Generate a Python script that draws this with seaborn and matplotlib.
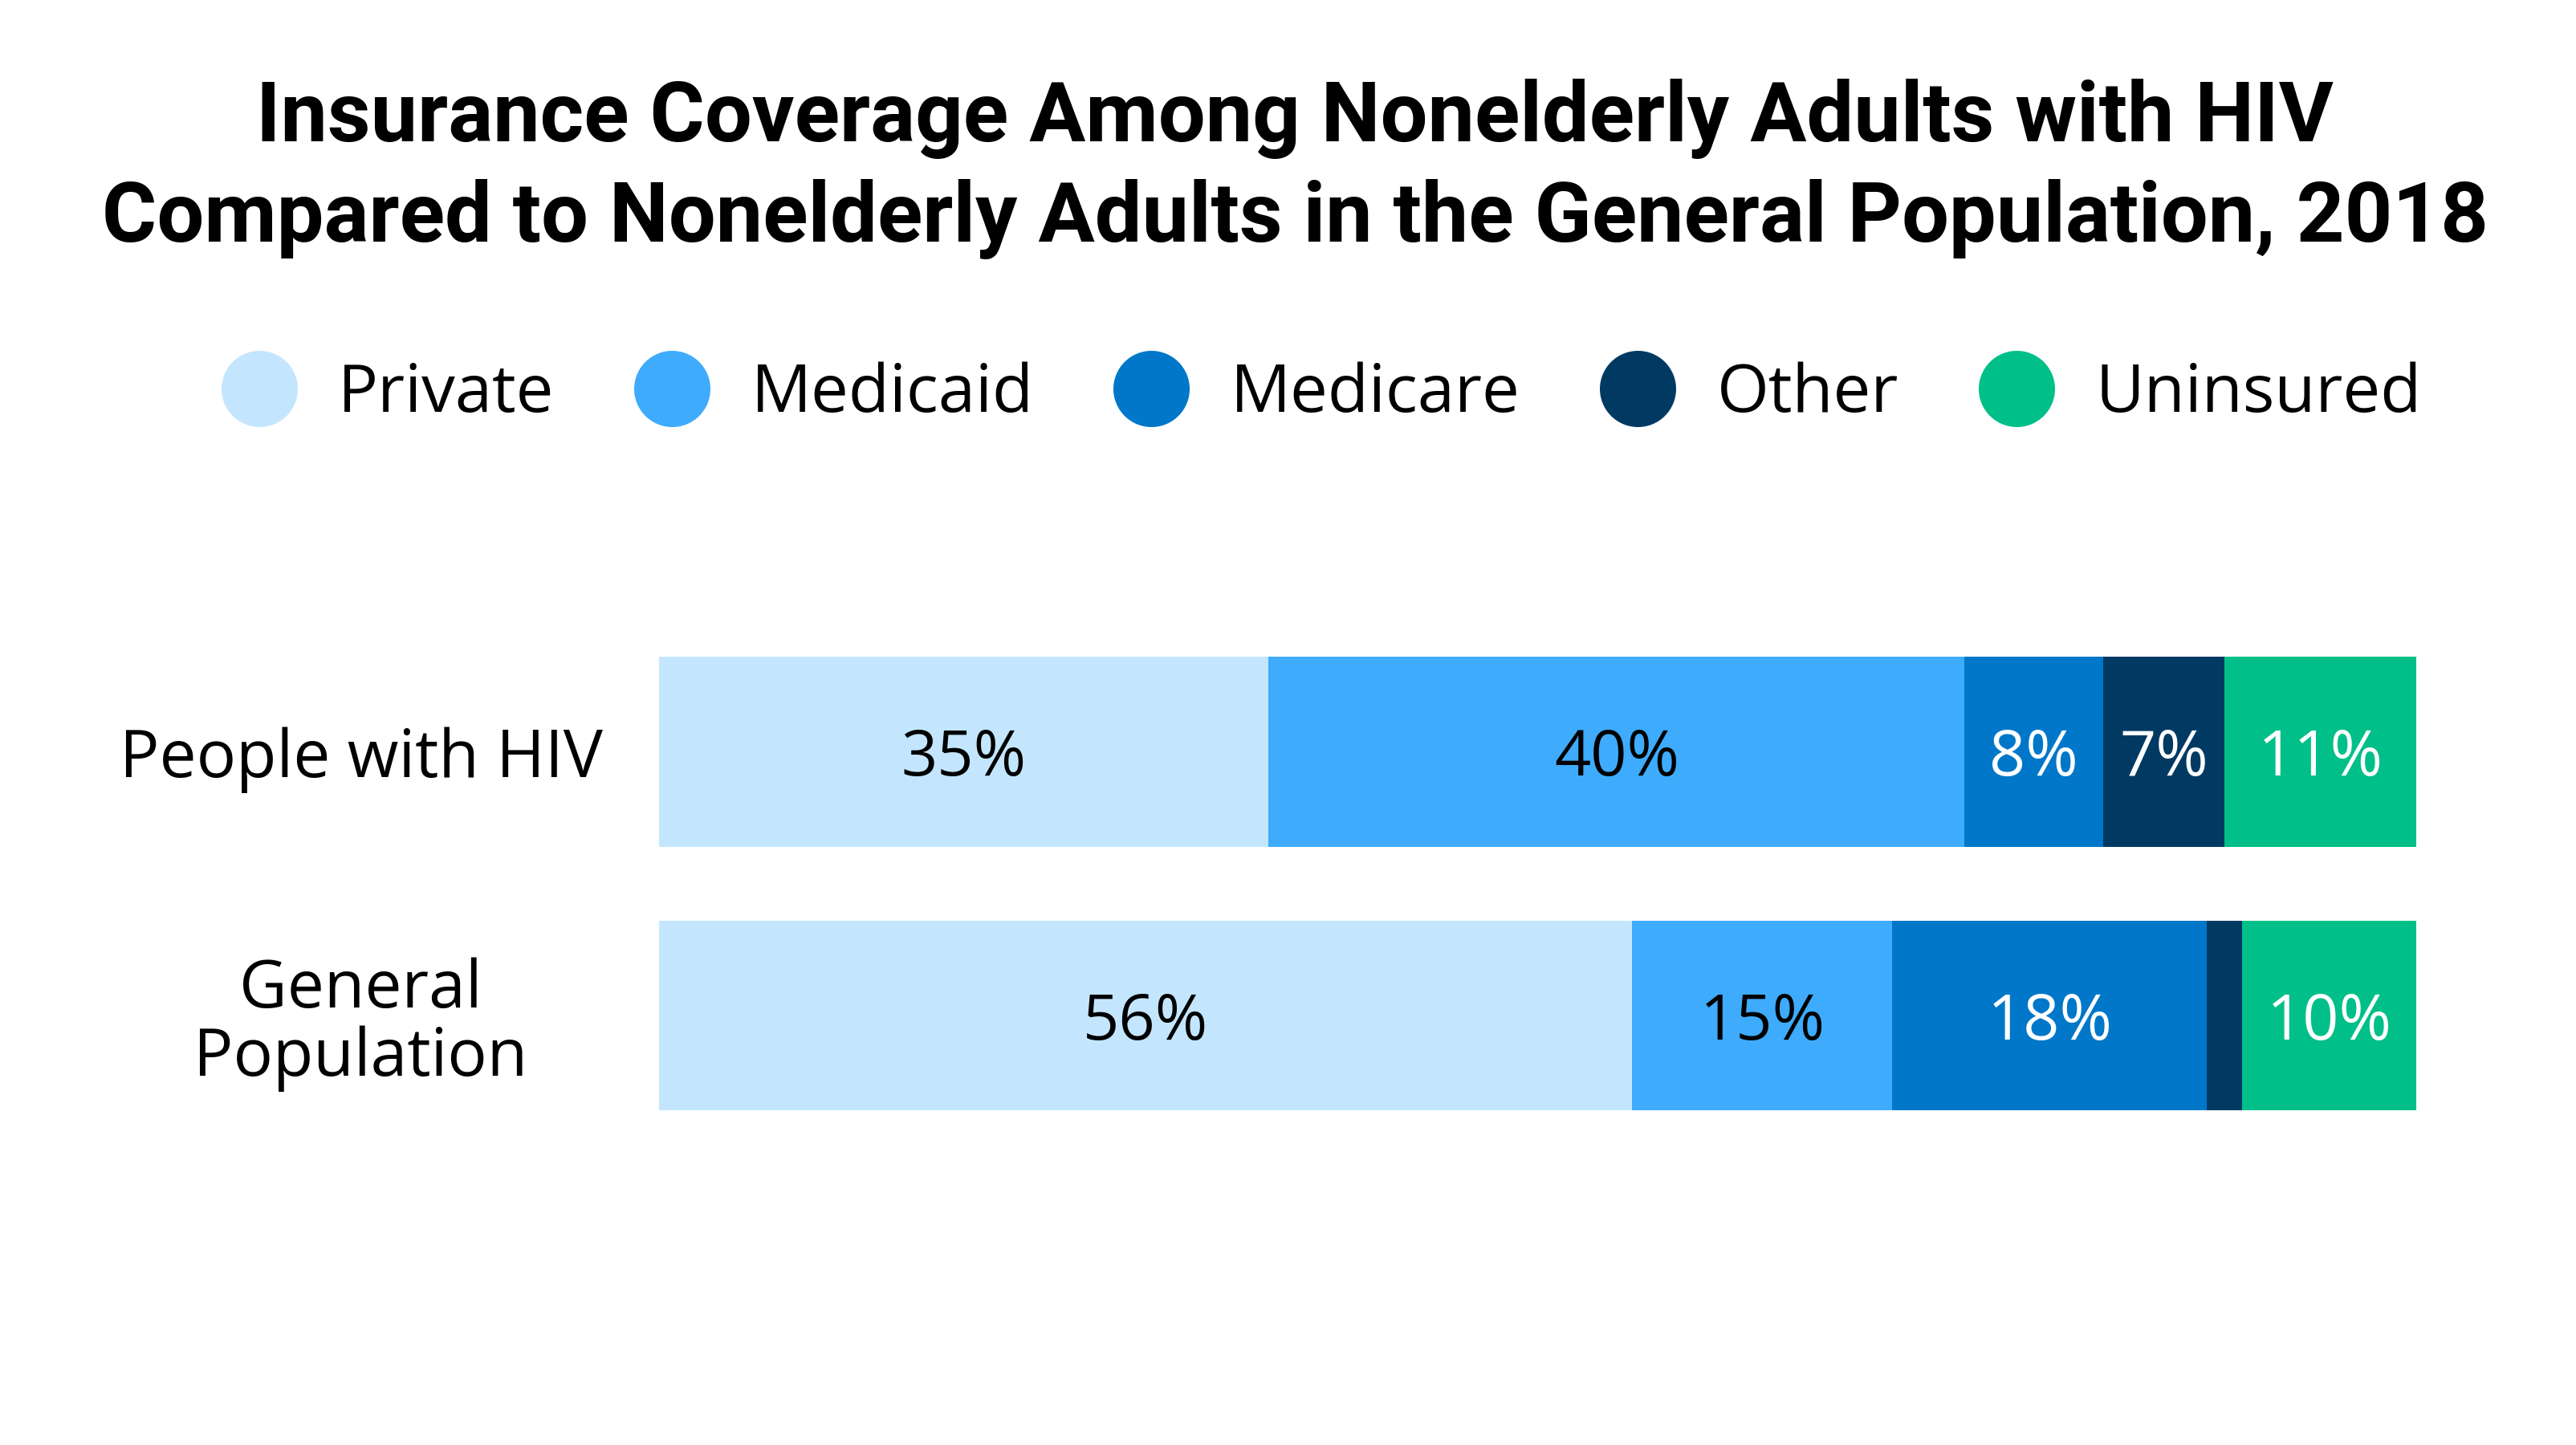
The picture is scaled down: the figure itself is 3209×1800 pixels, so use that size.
"""
Stacked horizontal bars of insurance coverage for nonelderly adults
with HIV versus the general population, 2018.
"""

import matplotlib.pyplot as plt
from matplotlib.lines import Line2D
import pandas as pd
import seaborn as sns

groups = ["People with HIV", "General\nPopulation"]
coverage = ["Private", "Medicaid", "Medicare", "Other", "Uninsured"]
hiv_share = [34.7, 39.6, 7.9, 6.9, 10.9]
general_share = [55.4, 14.8, 17.9, 2.0, 9.9]
hiv_labels = ["35%", "40%", "8%", "7%", "11%"]
general_labels = ["56%", "15%", "18%", "", "10%"]

colors = ["#c3e6fe", "#3eabfd", "#0077c8", "#003a63", "#00bf88"]
label_colors = ["black", "black", "white", "white", "white"]

sns.set_theme(style="white")
plt.rcParams["font.family"] = ["Open Sans", "DejaVu Sans"]
plt.rcParams["text.color"] = "black"

shares = pd.DataFrame([hiv_share, general_share], columns=coverage)
shares["group"] = groups
cum = shares[coverage].cumsum(axis=1)
cum["group"] = groups

fig = plt.figure(figsize=(16.045, 9), dpi=200)
ax = fig.add_axes([0.2558, 0.2061, 0.6821, 0.365])

# draw the running totals from the longest down so each segment shows
for name, color in reversed(list(zip(coverage, colors))):
    sns.barplot(data=cum, x=name, y="group", color=color, width=0.72,
                linewidth=0, saturation=1, ax=ax)

# segment labels
all_labels = [hiv_labels, general_labels]
for i in range(len(groups)):
    for j, name in enumerate(coverage):
        mid = cum.loc[i, name] - shares.loc[i, name] / 2
        ax.text(mid, i, all_labels[i][j], ha="center", va="center_baseline",
                fontsize=28.5, color=label_colors[j])

ax.set_xlim(0, 100)
ax.set_ylim(1.5, -0.5)
ax.set_xlabel("")
ax.set_ylabel("")
ax.set_xticks([])
sns.despine(ax=ax, left=True, bottom=True)
ax.tick_params(axis="y", length=0, pad=133.7, labelsize=29.6)
plt.setp(ax.get_yticklabels(), ha="center", multialignment="center",
         linespacing=1.05, color="black")

# legend with round markers
handles = [Line2D([], [], marker="o", linestyle="", markersize=34.2,
                  markerfacecolor=c, markeredgewidth=0) for c in colors]
fig.legend(handles, coverage, ncol=5, loc="center",
           bbox_to_anchor=(0.5138, 0.7268), frameon=False, fontsize=30,
           handlelength=1.0, handletextpad=0.68, columnspacing=1.26,
           labelcolor="black")

fig.text(0.5027, 0.883,
         "Insurance Coverage Among Nonelderly Adults with HIV\n"
         "Compared to Nonelderly Adults in the General Population, 2018",
         ha="center", va="center", fontsize=37.6, fontweight="bold",
         family=["Roboto", "DejaVu Sans"], linespacing=1.32, color="black")

fig.savefig("out.png", dpi=200)
